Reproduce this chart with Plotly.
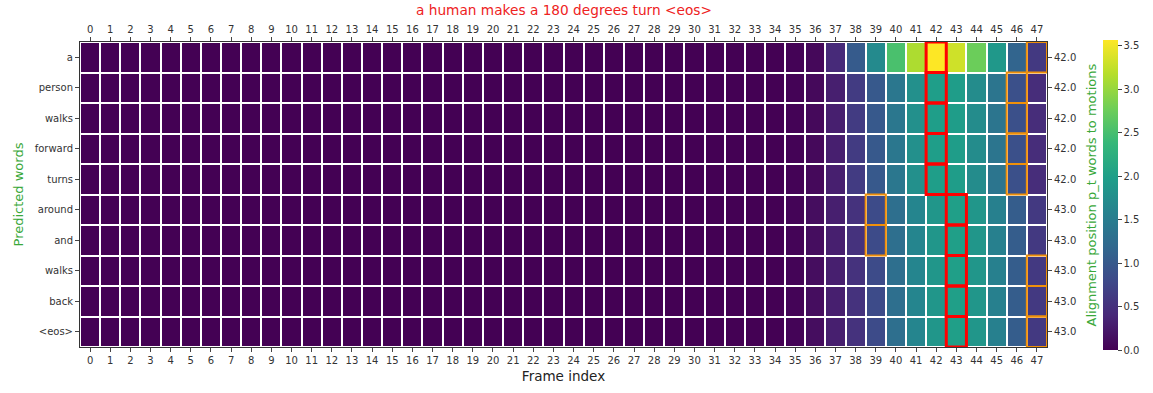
import plotly.graph_objects as go

# Sentence tokens (rows) and motion frame indices (columns)
words = ["a", "person", "walks", "forward", "turns", "around", "and", "walks", "back", "<eos>"]
frames = list(range(48))
sentence = "a human makes a 180 degrees turn <eos>"

# Alignment weights: frames 0-34 carry no weight, values listed for frames 35-47
quiet = [0.0] * 35
row_a       = quiet + [0.02, 0.07, 0.42, 1.02, 1.70, 2.52, 3.12, 3.56, 3.30, 2.75, 1.90, 1.15, 0.60]
row_person  = quiet + [0.02, 0.08, 0.30, 0.62, 1.00, 1.42, 1.78, 1.98, 1.96, 1.72, 1.38, 0.88, 0.45]
row_walks   = quiet + [0.02, 0.08, 0.30, 0.62, 1.00, 1.42, 1.78, 1.98, 1.96, 1.72, 1.38, 0.88, 0.45]
row_forward = quiet + [0.02, 0.08, 0.30, 0.62, 1.00, 1.42, 1.78, 1.98, 1.96, 1.72, 1.38, 0.88, 0.45]
row_turns   = quiet + [0.02, 0.08, 0.30, 0.62, 1.00, 1.42, 1.78, 1.98, 1.96, 1.72, 1.38, 0.88, 0.45]
row_around  = quiet + [0.03, 0.12, 0.30, 0.52, 0.82, 1.30, 1.62, 1.86, 2.00, 1.86, 1.55, 1.05, 0.60]
row_and     = quiet + [0.03, 0.12, 0.30, 0.52, 0.82, 1.30, 1.62, 1.86, 2.00, 1.86, 1.55, 1.05, 0.60]
row_walks2  = quiet + [0.03, 0.12, 0.30, 0.52, 0.82, 1.30, 1.62, 1.86, 2.00, 1.86, 1.55, 1.05, 0.60]
row_back    = quiet + [0.03, 0.12, 0.30, 0.52, 0.82, 1.30, 1.62, 1.86, 2.00, 1.86, 1.55, 1.05, 0.60]
row_eos     = quiet + [0.03, 0.12, 0.30, 0.52, 0.82, 1.30, 1.62, 1.86, 2.00, 1.86, 1.55, 1.05, 0.60]
weights = [row_a, row_person, row_walks, row_forward, row_turns,
           row_around, row_and, row_walks2, row_back, row_eos]

# Predicted alignment position p_t per word, and the secondary highlighted frame
p_t = [42.0, 42.0, 42.0, 42.0, 42.0, 43.0, 43.0, 43.0, 43.0, 43.0]
alt_frame = [47, 46, 46, 46, 46, 39, 39, 47, 47, 47]

row_idx = list(range(len(words)))
font = "DejaVu Sans, Liberation Sans, sans-serif"
tick_font = dict(family=font, size=10, color="#333333")
green = "#3aa83a"

fig = go.Figure()
fig.add_trace(go.Heatmap(
    z=weights, x=frames, y=row_idx,
    colorscale="Viridis", zmin=0, xgap=2, ygap=2,
    showscale=True,
    colorbar=dict(
        x=1.058, xanchor="left", xpad=0, ypad=0, thickness=15,
        lenmode="pixels", len=310, y=0.497, yanchor="middle",
        tickvals=[0, 0.5, 1.0, 1.5, 2.0, 2.5, 3.0, 3.5],
        ticktext=["0.0", "0.5", "1.0", "1.5", "2.0", "2.5", "3.0", "3.5"],
        ticks="outside", ticklen=4, tickfont=tick_font, outlinewidth=0,
    ),
    hoverinfo="skip",
))

# Invisible traces that carry the top frame axis and the right p_t axis
fig.add_trace(go.Scatter(x=frames, y=[0] * len(frames), xaxis="x2", yaxis="y",
                         mode="markers", marker=dict(opacity=0), showlegend=False,
                         hoverinfo="skip"))
fig.add_trace(go.Scatter(x=[0] * len(row_idx), y=row_idx, xaxis="x", yaxis="y2",
                         mode="markers", marker=dict(opacity=0), showlegend=False,
                         hoverinfo="skip"))

shapes = []
for r, c in zip(row_idx, alt_frame):
    shapes.append(dict(type="rect", xref="x", yref="y",
                       x0=c - 0.5, x1=c + 0.5, y0=r - 0.5, y1=r + 0.5,
                       line=dict(color="#f0900a", width=2)))
for r, c in zip(row_idx, p_t):
    c = int(c)
    shapes.append(dict(type="rect", xref="x", yref="y",
                       x0=c - 0.5, x1=c + 0.5, y0=r - 0.5, y1=r + 0.5,
                       line=dict(color="#ff0000", width=3)))

xr = [-0.5, 47.5]
yr = [9.5, -0.5]
fig.update_layout(
    width=1153, height=393,
    margin=dict(l=80, r=106, t=42, b=43),
    plot_bgcolor="white", paper_bgcolor="white",
    showlegend=False,
    shapes=shapes,
    xaxis=dict(range=xr, tickvals=frames, ticktext=[str(f) for f in frames],
               ticks="outside", ticklen=4, tickfont=tick_font,
               showgrid=False, zeroline=False,
               showline=True, linecolor="#333333", linewidth=1, mirror=True,
               title=dict(text="Frame index", font=dict(family=font, size=13.5, color="#222222"),
                          standoff=6)),
    xaxis2=dict(range=xr, overlaying="x", side="top", tickvals=frames,
                ticktext=[str(f) for f in frames], ticks="outside", ticklen=4,
                tickfont=tick_font, showgrid=False, zeroline=False),
    yaxis=dict(range=yr, tickvals=row_idx, ticktext=words,
               ticks="outside", ticklen=4, tickfont=tick_font,
               showgrid=False, zeroline=False,
               showline=True, linecolor="#333333", linewidth=1, mirror=True,
               title=dict(text="Predicted words", font=dict(family=font, size=13, color=green),
                          standoff=8)),
    yaxis2=dict(range=yr, overlaying="y", side="right", tickvals=row_idx,
                ticktext=[f"{v:.1f}" for v in p_t], ticks="outside", ticklen=4,
                tickfont=tick_font, showgrid=False, zeroline=False),
    annotations=[
        dict(text=sentence, xref="paper", yref="paper", x=0.5, y=1.0,
             yshift=22, xanchor="center", yanchor="bottom", showarrow=False,
             font=dict(family=font, size=13.7, color="#ee2222")),
        dict(text="Alignment position p_t words to motions", xref="paper", yref="paper",
             x=1.0465, y=0.5, xanchor="center", yanchor="middle", textangle=-90,
             showarrow=False, font=dict(family=font, size=13, color=green)),
    ],
)

fig.write_html("out.html")
